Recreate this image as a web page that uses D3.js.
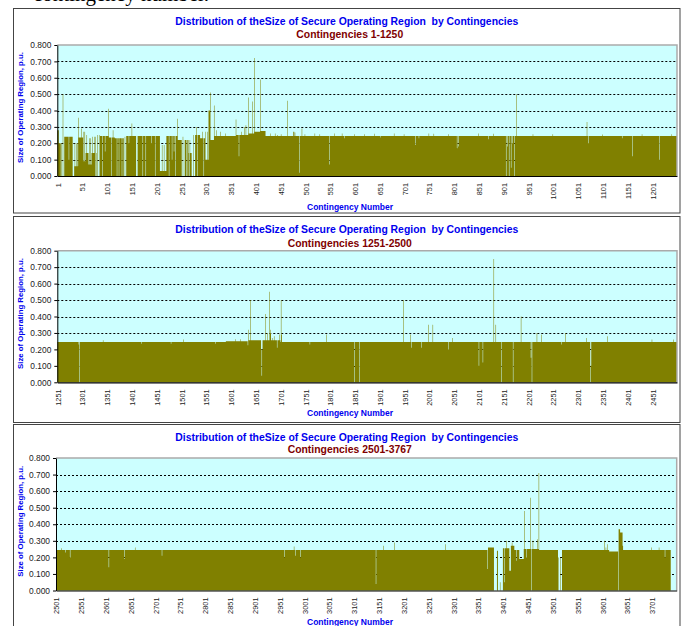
<!DOCTYPE html>
<html lang="en">
<head>
<meta charset="utf-8">
<title>Size of Secure Operating Region by Contingencies</title>
<script src="https://cdn.jsdelivr.net/npm/d3@7"></script>
<style>
  html, body { margin: 0; padding: 0; background: #fff; }
  svg { display: block; }
  text { font-family: Arial, "Liberation Sans", sans-serif; }
</style>
</head>
<body>
<script>
// ---- data ----
var yTicks = [0, 0.1, 0.2, 0.3, 0.4, 0.5, 0.6, 0.7, 0.8];
var chartTitle = "Distribution of theSize of Secure Operating Region  by Contingencies";
var subTitles = ["Contingencies 1-1250", "Contingencies 1251-2500", "Contingencies 2501-3767"];
var firstIds = [1, 1251, 2501];
var lastIds = [1250, 2500, 3738];

var xLabels1 = [1, 51, 101, 151, 201, 251, 301, 351, 401, 451, 501, 551, 601, 651, 701, 751, 801, 851, 901, 951, 1001, 1051, 1101, 1151, 1201];
var xLabels2 = [1251, 1301, 1351, 1401, 1451, 1501, 1551, 1601, 1651, 1701, 1751, 1801, 1851, 1901, 1951, 2001, 2051, 2101, 2151, 2201, 2251, 2301, 2351, 2401, 2451];
var xLabels3 = [2501, 2551, 2601, 2651, 2701, 2751, 2801, 2851, 2901, 2951, 3001, 3051, 3101, 3151, 3201, 3251, 3301, 3351, 3401, 3451, 3501, 3551, 3601, 3651, 3701];

// runs of equal value: [first contingency, last contingency, size p.u.]
var levels1 = [[1, 3, 0.28], [4, 7, 0.2], [8, 11, 0], [12, 12, 0.5], [13, 14, 0], [15, 31, 0.24], [32, 34, 0],
  [35, 42, 0.06], [43, 43, 0.355], [44, 48, 0.235], [49, 49, 0.29], [50, 52, 0.235], [53, 57, 0.09],
  [58, 63, 0.14], [64, 69, 0.07], [70, 79, 0.14], [80, 86, 0], [87, 103, 0.245], [104, 104, 0.41],
  [105, 116, 0.235], [117, 134, 0.23], [135, 139, 0], [140, 150, 0.245], [151, 151, 0.32], [152, 159, 0.245],
  [160, 162, 0], [163, 207, 0.245], [208, 220, 0.03], [221, 242, 0.245], [243, 243, 0.35], [244, 251, 0.22],
  [252, 257, 0], [258, 268, 0.22], [269, 271, 0.14], [272, 278, 0], [279, 288, 0.25], [289, 298, 0.23],
  [299, 305, 0.1], [306, 308, 0.4], [309, 309, 0.51], [310, 316, 0.22], [317, 317, 0.43], [318, 360, 0.245],
  [361, 361, 0.345], [362, 366, 0.25], [367, 367, 0.12], [368, 385, 0.25], [386, 386, 0.48], [387, 393, 0.26],
  [394, 394, 0.455], [395, 397, 0.26], [398, 398, 0.72], [399, 409, 0.27], [410, 410, 0.59], [411, 420, 0.275],
  [421, 1250, 0.245]];
var levels2 = [[1251, 1590, 0.245], [1591, 1634, 0.25], [1635, 1700, 0.255], [1701, 2500, 0.245]];
var levels3 = [[2501, 3369, 0.245], [3371, 3382, 0.26], [3383, 3388, 0], [3389, 3390, 0.24], [3391, 3400, 0],
  [3401, 3413, 0.255], [3414, 3416, 0.12], [3417, 3423, 0.27], [3424, 3433, 0.245], [3434, 3442, 0.19],
  [3443, 3472, 0.25], [3474, 3511, 0.245], [3512, 3519, 0], [3520, 3614, 0.245], [3615, 3632, 0.235],
  [3634, 3636, 0.37], [3637, 3641, 0.35], [3642, 3738, 0.245]];

// single contingencies that stand out: [contingency, size p.u.]
var singles1 = [[9, 0.2], [24, 0.1], [36, 0.2], [39, 0.2], [41, 0.2], [54, 0.27], [56, 0.27], [60, 0.25],
  [65, 0.23], [68, 0.23], [72, 0.24], [75, 0.24], [77, 0], [78, 0.24], [82, 0.25], [85, 0.25], [92, 0],
  [97, 0.15], [110, 0], [113, 0.28], [121, 0], [125, 0], [131, 0],
  [137, 0.24], [145, 0.2], [173, 0], [179, 0], [190, 0.2], [198, 0], [212, 0.19], [216, 0.19],
  [226, 0], [232, 0.1], [236, 0.15], [239, 0], [254, 0.24], [261, 0], [264, 0], [266, 0.14], [267, 0],
  [275, 0.25], [281, 0.3], [283, 0], [293, 0.27], [296, 0], [300, 0.27], [303, 0.27], [322, 0.28],
  [330, 0.27], [340, 0.26], [372, 0.27], [378, 0.3], [381, 0.31], [430, 0.26], [440, 0.26], [445, 0.25],
  [452, 0.255], [465, 0.46], [477, 0.27], [478, 0.27], [480, 0.265], [489, 0.02], [494, 0.29], [500, 0.255],
  [520, 0.26], [530, 0.255], [550, 0.07], [560, 0.26], [575, 0.26], [580, 0.23], [600, 0.255], [620, 0.255],
  [640, 0.258], [653, 0.235], [680, 0.26], [700, 0.255], [723, 0.19], [730, 0.23], [750, 0.26], [760, 0.258],
  [790, 0.255], [807, 0.17], [810, 0.18], [850, 0.26], [870, 0.225], [880, 0.258], [906, 0], [909, 0.18],
  [912, 0], [916, 0.05], [919, 0.2], [923, 0], [927, 0.5], [960, 0.255], [1000, 0.255], [1069, 0.33],
  [1072, 0.2], [1100, 0.253], [1140, 0.23], [1161, 0.12], [1180, 0.255], [1215, 0.1], [1240, 0.255]];
var singles2 = [[1294, 0.23], [1295, 0], [1343, 0.255], [1420, 0.235], [1480, 0.235], [1505, 0.26], [1570, 0.235],
  [1610, 0.262], [1620, 0.262], [1635, 0.225], [1636, 0.32], [1640, 0.5], [1662, 0.2], [1663, 0.04],
  [1664, 0.2], [1671, 0.415], [1674, 0.3], [1679, 0.55], [1680, 0.3], [1681, 0.32], [1684, 0.27],
  [1688, 0.28], [1694, 0.21], [1699, 0.29], [1702, 0.5], [1703, 0.29], [1760, 0.23], [1793, 0.29],
  [1850, 0], [1860, 0], [1949, 0.5], [1963, 0.29], [1965, 0.21], [1985, 0.21], [1999, 0.35], [2008, 0.35],
  [2040, 0.2], [2048, 0.27], [2101, 0.1], [2109, 0.12], [2131, 0.75], [2135, 0.35], [2146, 0], [2170, 0],
  [2186, 0.4], [2206, 0.15], [2208, 0], [2218, 0.3], [2227, 0.29], [2268, 0.23], [2276, 0.3], [2318, 0.27],
  [2326, 0], [2327, 0.1], [2360, 0.28], [2450, 0.26], [2493, 0.26]];
var singles3 = [[2512, 0.255], [2520, 0.23], [2529, 0.2], [2607, 0.14], [2638, 0.19], [2660, 0.26], [2714, 0.21],
  [2961, 0.2], [2980, 0.265], [2983, 0.21], [2993, 0.2], [3145, 0.04], [3160, 0.27], [3182, 0.29], [3285, 0.28],
  [3370, 0.13], [3395, 0.05], [3404, 0.05], [3408, 0.3], [3419, 0.29], [3428, 0.18], [3444, 0.48], [3448, 0.2],
  [3456, 0.56], [3458, 0], [3461, 0.3], [3470, 0.31], [3473, 0.71], [3512, 0.2], [3517, 0.2], [3605, 0.3],
  [3608, 0.26], [3611, 0.28], [3642, 0.27], [3700, 0.26], [3715, 0.26], [3727, 0.2]];

var allLevels = [levels1, levels2, levels3];
var allSingles = [singles1, singles2, singles3];
var allLabels = [xLabels1, xLabels2, xLabels3];

// ---- layout ----
var panels = [
  {frame: [13.5, 8.5, 666.5, 204.5], plot: [57.3, 45, 677, 176], title: 24.5, sub: 38},
  {frame: [13.5, 216.5, 666.5, 206], plot: [57.3, 250.7, 677, 382.3], title: 233, sub: 246.5},
  {frame: [13.5, 424.5, 666.5, 210], plot: [56, 458, 676.7, 590.5], title: 440.5, sub: 453}
];

var svg = d3.select("body").append("svg")
    .attr("width", 683)
    .attr("height", 626);

// bottom of a line of the surrounding document, cut off by the picture
svg.append("text")
    .attr("x", 33).attr("y", 0.5)
    .style("font-family", "'Liberation Serif', 'Times New Roman', serif")
    .style("font-size", "21px")
    .text("contingency number.");

function buildSeries(first, last, levels, singles) {
  var vals = [];
  for (var c = first; c <= last; c++) vals.push({c: c, v: 0});
  levels.forEach(function(r) {
    for (var c = r[0]; c <= Math.min(r[1], last); c++) vals[c - first].v = r[2];
  });
  singles.forEach(function(s) { vals[s[0] - first].v = s[1]; });
  // closing point so the last bar gets its width
  vals.push({c: last + 1, v: vals[vals.length - 1].v});
  return vals;
}

panels.forEach(function(p, i) {
  var first = firstIds[i], last = lastIds[i];
  var left = p.plot[0], top = p.plot[1], right = p.plot[2], bottom = p.plot[3];
  var g = svg.append("g");

  g.append("rect")
      .attr("x", p.frame[0]).attr("y", p.frame[1])
      .attr("width", p.frame[2]).attr("height", p.frame[3])
      .attr("fill", "#fff").attr("stroke", "#444").attr("stroke-width", 1);

  var x = d3.scaleLinear().domain([first, first + 1250]).range([left, right]);
  var y = d3.scaleLinear().domain([0, 0.8]).range([bottom, top]);

  g.append("rect")
      .attr("x", left).attr("y", top)
      .attr("width", right - left).attr("height", bottom - top)
      .attr("fill", "#ccffff");

  g.selectAll(".grid").data(yTicks.slice(1, 8)).enter().append("line")
      .attr("x1", left).attr("x2", right)
      .attr("y1", function(d) { return Math.round(y(d)) + 0.5; })
      .attr("y2", function(d) { return Math.round(y(d)) + 0.5; })
      .attr("stroke", "#000").attr("stroke-width", 1)
      .attr("stroke-dasharray", "2,2");

  var series = buildSeries(first, last, allLevels[i], allSingles[i]);
  var area = d3.area()
      .x(function(d) { return x(d.c); })
      .y0(y(0))
      .y1(function(d) { return y(d.v); })
      .curve(d3.curveStepAfter);
  g.append("path").datum(series)
      .attr("d", area)
      .attr("fill", "#808000");

  // plot area border (top and right)
  g.append("path")
      .attr("d", "M" + left + "," + top + "H" + right + "V" + bottom)
      .attr("fill", "none").attr("stroke", "#aaa").attr("stroke-width", 1.5);

  var yAxis = g.append("g")
      .attr("transform", "translate(" + left + ",0)")
      .call(d3.axisLeft(y).tickValues(yTicks).tickFormat(d3.format(".3f")).tickSize(3).tickSizeOuter(0));
  yAxis.select(".domain").attr("stroke", "#000");
  yAxis.selectAll("line").attr("stroke", "#000");
  yAxis.selectAll("text")
      .attr("x", -6)
      .style("font-size", "8.4px").attr("fill", "#222");

  var xAxis = g.append("g")
      .attr("transform", "translate(0," + bottom + ")")
      .call(d3.axisBottom(x)
        .tickValues(allLabels[i].map(function(d) { return d + 0.5; }))
        .tickFormat(function(d) { return d - 0.5; })
        .tickSize(0).tickSizeOuter(0));
  xAxis.select(".domain").attr("stroke", "#000").attr("stroke-width", 1.2);
  xAxis.selectAll("text")
      .attr("transform", "rotate(-90)")
      .attr("x", -7).attr("y", 0).attr("dy", "0.35em")
      .attr("text-anchor", "end")
      .style("font-size", "7.4px").attr("fill", "#222");

  var cx = p.frame[0] + p.frame[2] / 2;
  g.append("text")
      .attr("x", cx).attr("y", p.title)
      .attr("text-anchor", "middle")
      .style("white-space", "pre")
      .style("font-size", "10.4px").style("font-weight", "bold")
      .attr("fill", "#0000ee")
      .text(chartTitle);
  g.append("text")
      .attr("x", cx + 3).attr("y", p.sub)
      .attr("text-anchor", "middle")
      .style("font-size", "10.4px").style("font-weight", "bold")
      .attr("fill", "#800000")
      .text(subTitles[i]);

  g.append("text")
      .attr("transform", "translate(23," + ((top + bottom) / 2 - 3) + ") rotate(-90)")
      .attr("text-anchor", "middle")
      .style("font-size", "7.8px").style("font-weight", "bold")
      .attr("fill", "#0000ee")
      .text("Size of Operating Region, p.u.");

  g.append("text")
      .attr("x", 350).attr("y", bottom + 34)
      .attr("text-anchor", "middle")
      .style("font-size", "8.5px").style("font-weight", "bold")
      .attr("fill", "#0000ee")
      .text("Contingency Number");
});
</script>
</body>
</html>
